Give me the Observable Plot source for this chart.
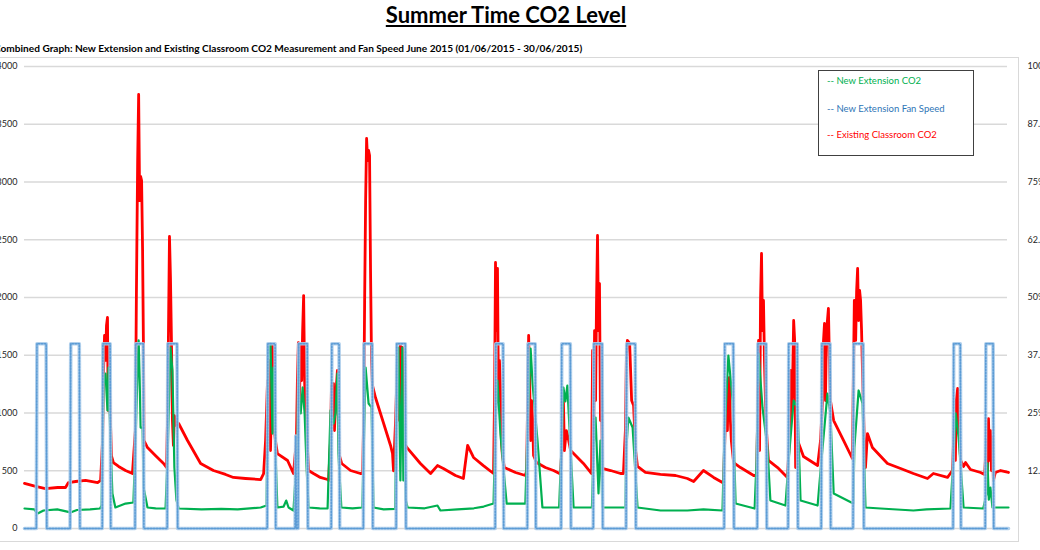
<!DOCTYPE html>
<html><head><meta charset="utf-8">
<script src="https://cdn.jsdelivr.net/npm/d3@7"></script>
<script src="https://cdn.jsdelivr.net/npm/@observablehq/plot@0.6"></script>
<style>
html,body{margin:0;padding:0;background:#fff;overflow:hidden;width:1040px;height:550px;}
#wrap{position:relative;width:1040px;height:550px;overflow:hidden;font-family:Lato,"Open Sans",sans-serif;}
#title{position:absolute;left:0;width:1012px;top:1px;text-align:center;font-weight:bold;font-size:22px;text-decoration:underline;color:#000;}
#subtitle{position:absolute;left:-6px;top:42px;font-weight:bold;font-size:10.1px;white-space:nowrap;color:#000;}
#chart{position:absolute;left:0;top:56px;}
#border{position:absolute;left:-10px;top:57px;width:1027px;height:483px;border:1px solid #d9d9d9;pointer-events:none;}
#legend{position:absolute;left:818px;top:70px;width:154px;height:84px;border:1px solid #404040;background:#fff;font-size:9.5px;}
#legend div{position:absolute;left:8px;white-space:nowrap;}
</style>
</head><body>
<div id="wrap">
<div id="title"></div>
<div id="subtitle"></div>
<div id="border"></div>
<div id="chart"></div>
<div id="legend"></div>
</div>
<script>
const titleText = "Summer Time CO2 Level";
const subtitleText = "Combined Graph: New Extension and Existing Classroom CO2 Measurement and Fan Speed June 2015 (01/06/2015 - 30/06/2015)";
const leftTicks = [0,500,1000,1500,2000,2500,3000,3500,4000];
const rightTickPct = [12.5,25,37.5,50,62.5,75,87.5,100];
const rightTickLabels = ["12.5%","25%","37.5%","50%","62.5%","75%","87.5%","100%"];
const seriesNames = ["New Extension CO2","New Extension Fan Speed","Existing Classroom CO2"];
const seriesColors = ["#00b050","#2e75b6","#ff0000"];

// time in days since 01/06/2015 00:00, value in ppm
const classroomCO2 = [
[0.00,390],[0.34,364],[0.64,346],[1.01,355],[1.25,355],[1.34,398],[1.56,407],[1.86,416],[2.23,398],
[2.32,416],[2.38,762],[2.41,1368],[2.44,1671],[2.47,1455],[2.50,1758],[2.53,1827],[2.55,1022],[2.56,1584],[2.59,1281],[2.62,935],[2.65,632],[2.71,571],[2.87,537],[3.08,502],[3.29,476],
[3.38,848],[3.41,1974],[3.45,3186],[3.48,3758],[3.51,2840],[3.54,3048],[3.57,3013],[3.60,2407],[3.63,1455],[3.64,762],[3.75,701],[3.99,632],[4.24,563],[4.33,528],
[4.36,935],[4.39,1714],[4.42,2528],[4.45,2173],[4.48,1628],[4.51,935],[4.54,719],[4.57,978],[4.63,892],[4.70,909],[4.97,762],[5.37,563],[5.76,502],[6.13,468],[6.37,442],[6.74,433],[7.20,424],
[7.29,476],[7.35,762],[7.41,1281],[7.44,935],[7.47,1455],[7.50,675],[7.53,1108],[7.56,1584],[7.59,935],[7.65,762],[7.71,649],[8.02,589],[8.20,476],
[8.29,762],[8.32,1281],[8.35,1610],[8.38,1108],[8.42,1584],[8.45,1281],[8.48,1714],[8.51,2017],[8.54,1281],[8.57,935],[8.60,1195],[8.63,675],[8.66,502],[8.81,476],[9.02,442],[9.24,424],
[9.27,416],[9.33,762],[9.36,1238],[9.39,935],[9.42,1255],[9.45,848],[9.48,1108],[9.51,1238],[9.54,1368],[9.57,935],[9.60,632],[9.67,563],[9.94,502],[10.24,476],
[10.31,476],[10.34,935],[10.37,1974],[10.40,2840],[10.43,3377],[10.46,3186],[10.49,3273],[10.52,3229],[10.55,2234],[10.58,1455],[10.61,1238],[10.70,1134],[10.95,909],[11.16,719],[11.22,649],[11.25,500],
[11.31,909],[11.37,1455],[11.40,1558],[11.43,935],[11.46,1584],[11.49,1108],[11.52,1567],[11.55,762],[11.62,719],[11.68,693],[12.07,563],[12.38,476],[12.59,545],[12.77,520],[13.14,459],[13.38,433],[13.51,719],[13.69,615],[13.99,545],[14.30,476],
[14.33,1108],[14.36,2303],[14.39,1714],[14.42,2251],[14.45,1108],[14.48,1455],[14.51,1238],[14.54,762],[14.57,632],[14.63,528],[14.97,485],[15.27,459],
[15.31,502],[15.34,1108],[15.37,1671],[15.40,1281],[15.43,762],[15.46,1108],[15.49,952],[15.52,632],[15.61,571],[15.88,528],[16.13,502],[16.31,476],
[16.34,476],[16.40,762],[16.43,1108],[16.46,675],[16.52,848],[16.59,762],[16.65,675],[16.80,632],[17.04,563],[17.26,485],
[17.29,476],[17.32,1541],[17.35,762],[17.38,1714],[17.41,1108],[17.44,1974],[17.47,2537],[17.50,1714],[17.53,2121],[17.56,935],[17.59,1281],[17.62,520],[17.87,502],[18.17,476],
[18.26,476],[18.32,848],[18.35,1455],[18.38,1628],[18.45,1602],[18.51,1108],[18.57,1065],[18.63,675],[18.69,537],[18.93,485],[19.39,468],[19.85,459],[20.21,433],[20.40,407],[20.70,502],[21.01,442],[21.28,398],
[21.31,416],[21.37,935],[21.40,1195],[21.43,848],[21.46,1281],[21.49,1307],[21.52,935],[21.55,762],[21.62,571],[21.83,528],[22.23,459],
[22.32,459],[22.35,935],[22.38,1628],[22.41,675],[22.44,1974],[22.47,2381],[22.50,1714],[22.53,1974],[22.56,1455],[22.59,1108],[22.62,848],[22.68,589],[22.96,528],[23.26,442],
[23.32,762],[23.35,1368],[23.38,935],[23.41,1152],[23.45,1801],[23.48,1628],[23.51,528],[23.54,935],[23.57,762],[23.75,623],[24.18,545],
[24.27,762],[24.33,1108],[24.36,1628],[24.39,1775],[24.42,1108],[24.45,1714],[24.48,1801],[24.51,1905],[24.54,1455],[24.57,1108],[24.67,935],[24.97,762],[25.24,606],
[25.27,1281],[25.30,1974],[25.34,1628],[25.37,2061],[25.40,2251],[25.43,1801],[25.46,2061],[25.49,1974],[25.52,1714],[25.55,1351],[25.61,675],[25.64,528],[25.70,822],[25.85,701],[26.31,563],[26.71,520],[27.10,476],[27.53,433],[27.71,476],[28.14,442],
[28.29,502],[28.35,935],[28.38,589],[28.41,1108],[28.45,1212],[28.48,935],[28.54,589],[28.63,537],[28.69,571],[28.84,511],[29.15,485],
[29.27,468],[29.33,762],[29.36,502],[29.39,952],[29.42,589],[29.45,848],[29.48,502],[29.51,788],[29.54,416],[29.60,485],[29.76,502],[30.00,485]
];

const extensionCO2 = [
[0.00,173],[0.30,165],[0.40,130],[0.58,156],[1.00,165],[1.40,139],[1.60,160],[2.00,165],[2.30,173],
[2.35,199],[2.41,1255],[2.47,1342],[2.53,1022],[2.56,1394],[2.62,762],[2.68,303],[2.77,182],[3.08,216],[3.32,225],
[3.38,700],[3.45,1400],[3.48,1628],[3.51,1300],[3.54,874],[3.60,874],[3.63,355],[3.75,182],[4.00,175],[4.30,173],
[4.36,600],[4.45,1567],[4.51,1368],[4.57,528],[4.63,250],[4.70,173],[5.40,165],[6.00,170],[6.50,165],[7.20,182],[7.38,199],
[7.41,1000],[7.44,1541],[7.50,1602],[7.56,822],[7.59,1394],[7.65,675],[7.71,182],[7.90,190],[7.98,242],[8.05,182],[8.20,156],
[8.32,700],[8.35,1455],[8.38,1100],[8.42,996],[8.48,1221],[8.54,1000],[8.60,528],[8.66,182],[9.00,175],[9.24,173],
[9.33,1022],[9.39,935],[9.42,909],[9.48,996],[9.54,1342],[9.57,649],[9.66,182],[10.00,175],[10.30,182],
[10.36,900],[10.40,1394],[10.49,1082],[10.58,1048],[10.64,182],[10.95,165],[11.30,170],
[11.36,1515],[11.40,1567],[11.46,416],[11.52,1567],[11.55,416],[11.57,900],[11.62,250],[11.68,182],[12.20,175],[12.59,199],[12.68,156],[13.20,165],[13.70,175],[14.00,190],[14.30,216],
[14.36,900],[14.42,1281],[14.51,822],[14.60,528],[14.70,216],[15.27,216],
[15.34,900],[15.43,1558],[15.49,1255],[15.64,762],[15.79,182],[16.30,182],
[16.37,700],[16.43,1221],[16.49,1100],[16.55,1238],[16.65,675],[16.74,182],[17.30,182],
[17.35,700],[17.41,961],[17.50,303],[17.56,762],[17.62,182],[18.32,182],
[18.35,700],[18.41,961],[18.54,874],[18.69,182],[19.39,156],[20.21,156],[20.70,165],[21.28,156],
[21.34,800],[21.46,1498],[21.59,1108],[21.68,216],[22.26,173],
[22.32,600],[22.38,1515],[22.50,1048],[22.65,701],[22.74,242],[23.20,199],
[23.30,600],[23.45,1108],[23.57,1048],[23.66,242],[24.18,199],
[24.30,600],[24.48,1169],[24.57,996],[24.67,303],[25.27,216],
[25.30,700],[25.43,1195],[25.55,1082],[25.64,182],[26.10,173],[27.10,156],[27.50,165],[28.23,173],
[28.32,600],[28.39,996],[28.48,788],[28.63,182],[29.23,173],
[29.33,300],[29.36,563],[29.40,250],[29.45,355],[29.51,182],[30.00,182]
];

// fan speed in % (right axis)
const fanSpeed = [
[0,0],[0.36,0],[0.38,40],[0.66,40],[0.68,0],
[1.39,0],[1.41,40],[1.67,40],[1.69,0],
[2.37,0],[2.39,40],[2.61,40],[2.63,0],
[3.37,0],[3.39,40],[3.62,40],[3.64,0],
[4.35,0],[4.37,40],[4.65,40],[4.67,0],
[7.40,0],[7.42,40],[7.64,40],[7.66,0],
[8.25,0],[8.27,20],[8.29,0],[8.34,0],[8.36,40],[8.62,40],[8.64,0],
[9.35,0],[9.37,40],[9.59,40],[9.61,0],
[10.33,0],[10.35,40],[10.60,40],[10.62,0],
[11.33,0],[11.35,40],[11.61,40],[11.63,0],
[14.35,0],[14.37,40],[14.59,40],[14.61,0],
[15.33,0],[15.35,40],[15.57,40],[15.59,0],
[16.36,0],[16.38,40],[16.64,40],[16.66,0],
[17.34,0],[17.36,40],[17.61,40],[17.63,0],
[18.34,0],[18.36,40],[18.62,40],[18.64,0],
[21.33,0],[21.35,40],[21.61,40],[21.63,0],
[22.34,0],[22.36,40],[22.61,40],[22.63,0],
[23.28,0],[23.30,40],[23.56,40],[23.58,0],
[24.29,0],[24.31,40],[24.56,40],[24.58,0],
[25.26,0],[25.28,40],[25.57,40],[25.59,0],
[28.31,0],[28.33,40],[28.53,40],[28.55,0],
[29.29,0],[29.31,40],[29.53,40],[29.55,0],
[30.00,0]
];

const PPM_PER_PCT = 4000 / 100;

document.getElementById("title").textContent = titleText;
document.getElementById("subtitle").textContent = subtitleText;

const red = classroomCO2.map(([t,v]) => ({t, v}));
const green = extensionCO2.map(([t,v]) => ({t, v}));
const blue = fanSpeed.map(([t,p]) => ({t, v: p * PPM_PER_PCT}));
const labelByPpm = new Map(rightTickPct.map((p,i) => [p * PPM_PER_PCT, rightTickLabels[i]]));

const chart = Plot.plot({
  width: 1040, height: 494,
  marginTop: 10, marginBottom: 22, marginLeft: 24, marginRight: 32,
  style: {background: "transparent", fontFamily: "Lato, 'Open Sans', sans-serif"},
  x: {domain: [0, 30], axis: null},
  y: {domain: [0, 4000], axis: null},
  marks: [
    Plot.ruleY(leftTicks, {x1: 0, x2: 29.97, stroke: "#d9d9d9", strokeWidth: 1.6}),
    Plot.axisY({ticks: leftTicks, anchor: "left", label: null, tickSize: 0, tickPadding: 7, fontSize: 9, color: "#262626", tickFormat: d => String(d)}),
    Plot.axisY({ticks: rightTickPct.map(p => p * PPM_PER_PCT), anchor: "right", label: null, tickSize: 0, tickPadding: 19, fontSize: 9, color: "#262626", textAnchor: "start", tickFormat: d => labelByPpm.get(d)}),
    Plot.line(red, {x: "t", y: "v", stroke: seriesColors[2], strokeWidth: 2.8, strokeLinejoin: "round"}),
    Plot.line(green, {x: "t", y: "v", stroke: seriesColors[0], strokeWidth: 2.2, strokeLinejoin: "round"}),
    Plot.line(blue, {x: "t", y: "v", stroke: "#a9cbea", strokeWidth: 3.6, strokeOpacity: 0.9}),
    Plot.line(blue, {x: "t", y: "v", stroke: "#5b9bd5", strokeWidth: 1.6, strokeDasharray: "1.5,1.5"})
  ]
});
document.getElementById("chart").appendChild(chart);

const legend = document.getElementById("legend");
const legendTops = [4, 32, 58];
seriesNames.forEach((name, i) => {
  const d = document.createElement("div");
  d.style.top = legendTops[i] + "px";
  d.style.color = seriesColors[i];
  d.textContent = "-- " + name;
  legend.appendChild(d);
});
</script>
</body></html>
